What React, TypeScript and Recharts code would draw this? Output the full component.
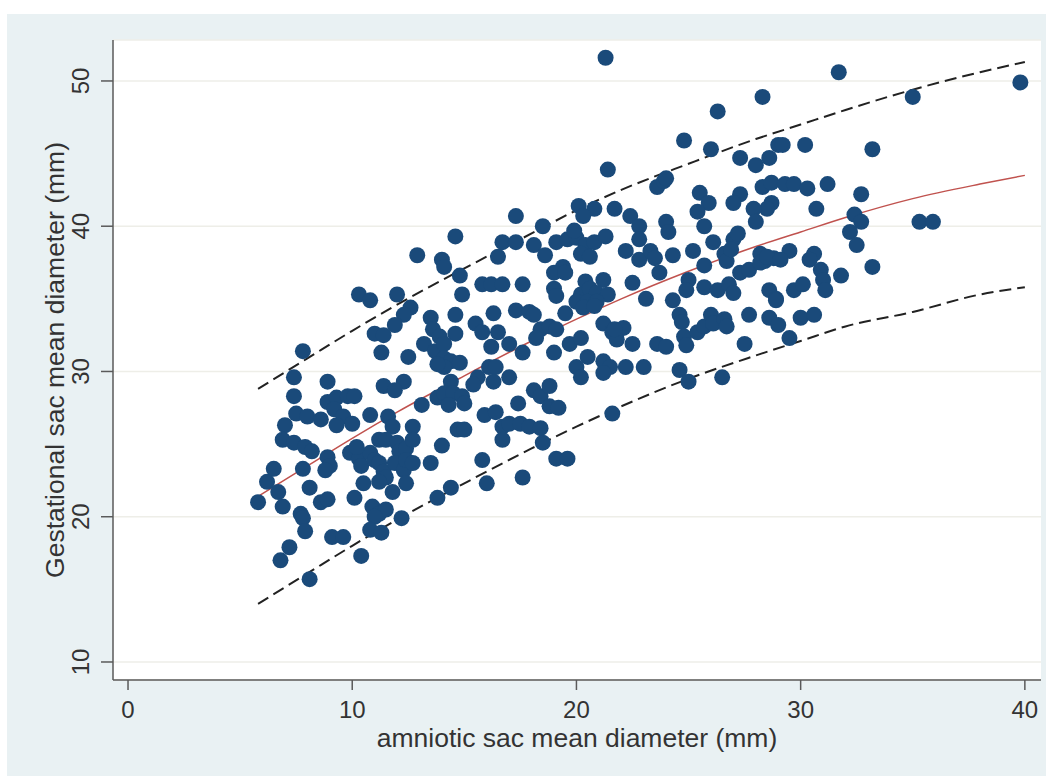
import {
  CartesianGrid,
  ComposedChart,
  Line,
  Scatter,
  XAxis,
  YAxis
} from "recharts";

// amniotic sac mean diameter (mm), gestational sac mean diameter (mm)
const samples: [number, number][] = [
  [12.9, 38.0], [10.3, 35.3], [10.8, 34.9], [12.0, 35.3], [12.6, 34.4], [12.3, 33.9],
  [11.9, 33.2], [13.5, 33.7], [11.0, 32.6], [11.4, 32.5], [13.6, 32.9], [13.2, 31.9],
  [13.7, 31.4], [7.8, 31.4], [11.3, 31.3], [12.5, 31.0], [7.4, 29.6], [8.9, 29.3],
  [11.4, 29.0], [12.3, 29.3], [11.9, 28.7], [7.4, 28.3], [8.9, 27.9], [9.3, 28.2],
  [9.8, 28.3], [10.1, 28.3], [7.5, 27.1], [8.0, 26.9], [8.6, 26.7], [9.2, 27.4],
  [9.6, 26.9], [10.0, 26.4], [10.8, 27.0], [11.6, 26.9], [11.8, 26.2], [13.1, 27.7],
  [13.8, 28.2], [7.0, 26.3], [9.3, 26.3], [12.7, 26.2],
  [6.9, 25.3], [7.4, 25.1], [7.9, 24.8], [8.2, 24.5], [6.5, 23.3], [6.2, 22.4],
  [5.8, 21.0], [6.7, 21.7], [6.9, 20.7], [7.8, 23.3], [8.1, 22.0], [8.9, 24.1],
  [9.0, 23.5], [8.8, 23.2], [8.6, 21.0], [8.9, 21.2], [7.7, 20.2], [7.8, 19.9],
  [7.9, 19.0], [7.2, 17.9], [6.8, 17.0], [8.1, 15.7], [9.1, 18.6], [9.6, 18.6],
  [10.4, 17.3], [10.1, 21.3], [10.5, 22.3], [9.9, 24.4], [10.3, 24.0], [10.4, 23.5],
  [10.8, 24.4], [11.0, 23.9], [11.2, 23.7], [10.2, 24.8], [11.2, 25.3], [11.5, 25.3],
  [12.0, 25.1], [12.1, 24.5], [12.4, 24.7], [12.7, 25.3], [11.4, 23.1], [11.5, 22.7],
  [11.2, 22.4], [11.9, 23.7], [12.3, 23.2], [12.4, 23.9], [12.7, 23.7], [13.5, 23.7],
  [12.4, 22.3], [11.8, 21.7], [10.9, 20.7], [11.2, 20.2], [11.5, 20.5], [11.0, 20.0],
  [12.2, 19.9], [10.8, 19.1], [11.3, 18.9], [13.8, 21.3],
  [14.6, 39.3], [16.7, 38.9], [17.3, 38.9], [18.1, 38.7], [18.6, 38.0], [16.5, 37.9],
  [14.0, 37.7], [14.1, 37.2], [14.8, 36.6], [19.1, 38.9], [19.6, 39.1], [20.0, 39.2],
  [20.4, 38.7], [20.8, 38.9], [21.3, 39.3], [20.2, 38.1], [20.6, 37.9], [22.2, 38.3],
  [19.4, 37.2], [19.0, 36.8], [15.8, 36.0], [16.2, 36.0], [16.7, 36.0], [17.6, 36.0],
  [14.9, 35.3], [19.0, 35.7], [19.1, 35.2], [20.4, 36.2], [21.2, 36.3], [20.2, 35.3],
  [20.6, 35.7], [20.9, 35.4], [21.4, 35.3], [20.0, 34.8], [20.5, 34.8], [20.9, 34.8],
  [20.3, 34.4], [20.8, 34.5], [14.6, 33.9], [16.3, 34.0], [17.3, 34.2], [17.9, 34.1],
  [18.1, 33.9], [15.5, 33.3], [15.8, 32.7], [16.5, 32.7], [14.6, 32.6], [16.2, 31.7],
  [17.0, 31.9], [18.4, 32.9], [18.8, 33.1], [19.1, 32.9], [18.2, 32.3], [17.6, 31.3],
  [19.0, 31.3], [19.7, 31.9], [20.2, 32.3], [21.2, 33.3], [21.6, 32.7], [22.1, 33.0],
  [21.8, 32.2], [20.5, 31.0], [20.0, 30.3], [20.2, 29.6], [21.2, 30.7], [21.5, 30.3],
  [21.2, 29.9], [22.2, 30.3], [13.9, 32.4], [14.1, 31.9], [14.1, 30.9], [14.4, 30.7],
  [14.1, 30.3], [14.8, 30.6], [13.8, 30.5], [16.1, 30.3], [16.4, 30.3], [15.6, 29.6],
  [15.4, 29.1], [16.3, 29.3], [17.0, 29.6], [14.4, 29.3], [14.1, 28.5], [14.5, 28.5],
  [14.9, 28.3], [14.3, 27.7], [15.0, 27.8], [18.1, 28.7], [18.4, 28.3], [18.8, 29.0],
  [18.8, 27.6], [19.2, 27.5], [17.4, 27.8], [15.9, 27.0], [16.4, 27.2], [21.6, 27.1],
  [14.7, 26.0], [15.0, 26.0], [14.0, 24.9], [15.8, 23.9], [16.0, 22.3], [14.4, 22.0],
  [16.7, 26.2], [17.0, 26.4], [17.5, 26.4], [17.9, 26.2], [18.4, 26.1], [18.5, 25.1],
  [16.7, 25.3], [19.1, 24.0], [19.6, 24.0], [17.6, 22.7],
  [21.3, 51.6], [28.3, 48.9], [26.3, 47.9], [24.8, 45.9], [26.0, 45.3], [21.4, 43.9],
  [27.3, 44.7], [28.0, 44.2], [28.6, 44.7], [29.0, 45.6], [23.6, 42.7], [23.9, 43.1],
  [24.0, 43.3], [25.5, 42.3], [25.9, 41.6], [25.4, 41.0], [25.7, 40.0], [27.3, 42.2],
  [27.0, 41.6], [28.3, 42.7], [28.7, 43.0], [28.7, 41.6], [28.5, 41.2], [27.9, 41.2],
  [28.0, 40.3], [20.1, 41.4], [20.8, 41.2], [21.7, 41.2], [20.3, 40.7], [22.4, 40.7],
  [22.8, 40.0], [24.0, 40.3], [24.1, 39.6], [17.3, 40.7], [18.5, 40.0], [19.9, 39.7],
  [22.8, 39.1], [26.1, 38.9], [27.0, 39.1], [27.2, 39.5], [22.8, 37.7], [23.3, 38.3],
  [23.5, 37.8], [24.3, 38.0], [25.2, 38.3], [26.6, 38.1], [26.7, 37.6], [26.9, 38.4],
  [28.2, 38.1], [28.4, 37.6], [28.8, 37.8], [19.5, 36.8], [19.5, 34.0], [22.5, 36.1],
  [23.1, 35.0], [23.7, 36.8], [24.3, 34.9], [25.0, 36.3], [24.9, 35.6], [25.7, 35.8],
  [25.7, 37.3], [26.3, 35.6], [26.8, 36.0], [27.0, 35.4], [27.3, 36.8], [27.7, 37.0],
  [28.2, 37.5], [28.5, 37.9], [28.6, 35.6], [28.9, 35.0], [21.7, 32.9], [22.5, 31.9],
  [23.0, 30.3], [23.6, 31.9], [24.0, 31.7], [24.6, 33.9], [24.7, 33.4], [24.8, 32.4],
  [24.9, 31.8], [25.4, 32.7], [25.7, 33.1], [26.0, 33.9], [26.1, 33.3], [26.6, 33.6],
  [26.7, 33.1], [27.7, 33.9], [27.5, 31.9], [28.6, 33.7], [29.0, 33.2], [24.6, 30.1],
  [25.0, 29.3], [26.5, 29.6],
  [31.7, 50.6], [39.8, 49.9], [35.0, 48.9], [29.2, 45.6], [30.2, 45.6], [33.2, 45.3],
  [29.3, 42.9], [29.7, 42.9], [30.3, 42.6], [31.2, 42.9], [30.7, 41.2], [32.7, 42.2],
  [32.4, 40.8], [32.7, 40.3], [32.2, 39.6], [35.3, 40.3], [35.9, 40.3],
  [32.5, 38.7], [33.2, 37.2], [29.5, 38.3], [29.1, 37.7], [30.6, 38.1], [30.4, 37.7],
  [30.9, 37.0], [31.0, 36.3], [31.1, 35.6], [31.8, 36.6], [28.9, 34.9], [29.7, 35.6],
  [30.1, 36.0], [30.0, 33.7], [30.6, 33.9], [29.5, 32.3]
];

// fitted curve and its upper / lower limits, read along the x axis
const curveX = [5.8, 8, 10, 12, 15, 18, 20, 22, 25, 28, 30, 32, 35, 38, 40];
const fitted = [21.4, 23.5, 25.4, 27.2, 29.7, 32.1, 33.6, 35.0, 36.9, 38.6, 39.6, 40.6, 41.9, 42.9, 43.5];
const upperLimit = [28.8, 30.9, 32.8, 34.6, 37.1, 39.5, 41.1, 42.5, 44.3, 46.0, 47.0, 48.0, 49.4, 50.6, 51.3];
const lowerLimit = [14.0, 16.1, 18.0, 19.8, 22.3, 24.7, 26.2, 27.6, 29.5, 31.1, 32.1, 33.1, 34.1, 35.3, 35.8];

const xTicks = [0, 10, 20, 30, 40];
const yTicks = [10, 20, 30, 40, 50];

const font = "'Liberation Sans', Arial, Helvetica, sans-serif";
const textColor = "#333";
const axisColor = "#5a5a5a";

const scatterData = samples.map(([x, y]) => ({ x, y }));
const toLine = (ys: number[]) => curveX.map((x, i) => ({ x, y: ys[i] }));

function YTick({ x, y, payload }: any) {
  const cx = x - 20;
  return (
    <text
      x={cx}
      y={y}
      transform={`rotate(-90, ${cx}, ${y})`}
      textAnchor="middle"
      dominantBaseline="central"
      fontSize={24}
      fontFamily={font}
      fill={textColor}
    >
      {payload.value}
    </text>
  );
}

function YTitle({ viewBox }: any) {
  const cx = viewBox.x + 42;
  const cy = viewBox.y + viewBox.height / 2;
  return (
    <text
      x={cx}
      y={cy}
      transform={`rotate(-90, ${cx}, ${cy})`}
      textAnchor="middle"
      dominantBaseline="central"
      fontSize={26.5}
      fontFamily={font}
      fill={textColor}
    >
      Gestational sac mean diameter (mm)
    </text>
  );
}

function XTitle({ viewBox }: any) {
  return (
    <text
      x={viewBox.x + viewBox.width / 2}
      y={viewBox.y + 67}
      textAnchor="middle"
      fontSize={26.5}
      fontFamily={font}
      fill={textColor}
    >
      amniotic sac mean diameter (mm)
    </text>
  );
}

export default function App() {
  return (
    <div
      style={{
        position: "absolute",
        left: 0,
        top: 0,
        width: 1052,
        height: 776,
        background: "#fff"
      }}
    >
      <div
        style={{
          position: "absolute",
          left: 7,
          top: 14,
          width: 1039,
          height: 762,
          background: "#e9f1f3"
        }}
      />
      <div style={{ position: "absolute", left: 0, top: 0 }}>
        <ComposedChart
          width={1052}
          height={776}
          margin={{ top: 40, right: 11, bottom: 16, left: 13 }}
        >
          <CartesianGrid vertical={false} fill="#ffffff" stroke="#eeeee8" strokeWidth={1.5} />
          <XAxis
            type="number"
            dataKey="x"
            domain={[-0.67, 40.72]}
            ticks={xTicks}
            allowDataOverflow
            height={80}
            tickSize={10}
            tickMargin={11}
            stroke={axisColor}
            strokeWidth={1.5}
            tick={{ fontSize: 24, fontFamily: font, fill: textColor }}
            label={<XTitle />}
          />
          <YAxis
            type="number"
            dataKey="y"
            domain={[8.76, 52.82]}
            ticks={yTicks}
            allowDataOverflow
            width={100}
            tickSize={12}
            tickMargin={0}
            stroke={axisColor}
            strokeWidth={1.5}
            tick={<YTick />}
            label={<YTitle />}
          />
          <Scatter
            data={scatterData}
            isAnimationActive={false}
            shape={(p: any) => <circle cx={p.cx} cy={p.cy} r={8} fill="#1a4a7a" />}
          />
          <Line
            data={toLine(fitted)}
            dataKey="y"
            type="monotone"
            stroke="#c0524e"
            strokeWidth={1.5}
            dot={false}
            isAnimationActive={false}
          />
          <Line
            data={toLine(upperLimit)}
            dataKey="y"
            type="monotone"
            stroke="#222"
            strokeWidth={2}
            strokeDasharray="12 6"
            dot={false}
            isAnimationActive={false}
          />
          <Line
            data={toLine(lowerLimit)}
            dataKey="y"
            type="monotone"
            stroke="#222"
            strokeWidth={2}
            strokeDasharray="12 6"
            dot={false}
            isAnimationActive={false}
          />
        </ComposedChart>
      </div>
    </div>
  );
}
